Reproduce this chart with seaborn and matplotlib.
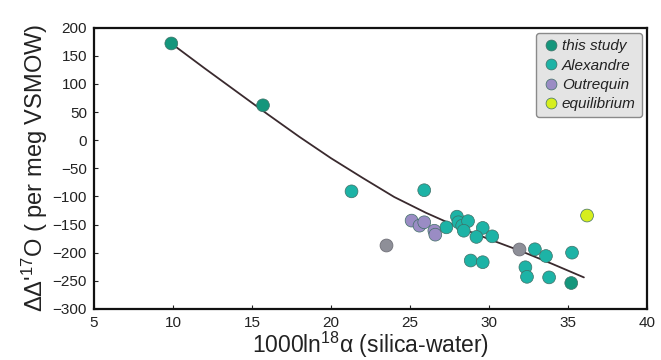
import matplotlib
matplotlib.use("Agg")
import matplotlib.pyplot as plt
import seaborn as sns
import pandas as pd

# --- data ---
this_x = [9.9, 15.7, 35.2]
this_y = [172, 62, -254]

alex_x = [21.3, 25.9, 27.3, 27.97, 28.06, 28.3, 28.67, 28.4, 29.6, 29.2, 30.2,
          28.84, 29.6, 32.9, 33.6, 35.25, 32.3, 32.4, 33.8]
alex_y = [-91, -89, -155, -136, -146, -152, -144, -161, -156, -172, -171,
          -214, -217, -194, -206, -200, -226, -243, -244]

outr_x = [25.1, 25.6, 25.9, 26.54, 26.6]
outr_y = [-143, -152, -146, -161, -168]

grey_x = [23.5, 31.9]
grey_y = [-186, -193]

equi_x = [36.2]
equi_y = [-134]

curve_x = [9.9, 12, 14, 16, 18, 20, 22, 24, 26, 28, 30, 32, 34, 36]
curve_y = [172, 128, 87, 46, 6, -32, -67, -101, -129, -154, -176, -197, -220, -244]

groups = ["this study", "Alexandre", "Outrequin", "equilibrium"]
colors = ["#14967c", "#1db3a6", "#9a8cc4", "#d6ee1e"]

df = pd.concat([
    pd.DataFrame({"x": this_x, "y": this_y, "g": groups[0]}),
    pd.DataFrame({"x": alex_x, "y": alex_y, "g": groups[1]}),
    pd.DataFrame({"x": outr_x, "y": outr_y, "g": groups[2]}),
    pd.DataFrame({"x": equi_x, "y": equi_y, "g": groups[3]}),
], ignore_index=True)
curve = pd.DataFrame({"x": curve_x, "y": curve_y})
grey = pd.DataFrame({"x": grey_x, "y": grey_y})

sns.set_theme(style="white")
plt.rcParams["font.family"] = ["Liberation Sans", "DejaVu Sans"]
plt.rcParams["mathtext.default"] = "regular"

fig = plt.figure(figsize=(6.61, 3.60), dpi=100)
ax = fig.add_axes([0.142, 0.142, 0.837, 0.781])

sns.lineplot(data=curve, x="x", y="y", ax=ax, color="#3a2a2e", lw=1.3, zorder=2)
sns.scatterplot(data=grey, x="x", y="y", ax=ax, color="#8e8f98", s=85,
                edgecolor="#707078", linewidth=0.6, zorder=3, legend=False)
sns.scatterplot(data=df, x="x", y="y", hue="g", hue_order=groups,
                palette=dict(zip(groups, colors)), s=85, edgecolor="#3f6f66",
                linewidth=0.5, ax=ax, zorder=4)

ax.set_xlim(5, 40)
ax.set_ylim(-300, 200)
ax.set_xticks(range(5, 41, 5))
ax.set_yticks(range(-300, 201, 50))
ax.tick_params(direction="in", length=3, width=0.8, labelsize=11, pad=5,
               bottom=True, left=True, colors="#222222")
for s in ax.spines.values():
    s.set_color("#111111")
    s.set_linewidth(1.6)

ax.set_xlabel("1000ln$^{18}$α (silica-water)", fontsize=16.5, labelpad=0, color="#222222")
ax.set_ylabel("ΔΔ'$^{17}$O ( per meg VSMOW)", fontsize=17, labelpad=2, color="#222222")

leg = ax.legend(loc="upper right", fancybox=True, framealpha=1,
                facecolor="#e4e4e4", edgecolor="#8a8a8a",
                prop={"style": "italic", "size": 11},
                handletextpad=0.1, borderpad=0.4, labelspacing=0.35,
                borderaxespad=0.35, markerscale=0.85, handlelength=1.2)
for t in leg.get_texts():
    t.set_color("#222222")

fig.savefig("out.png", dpi=100)
